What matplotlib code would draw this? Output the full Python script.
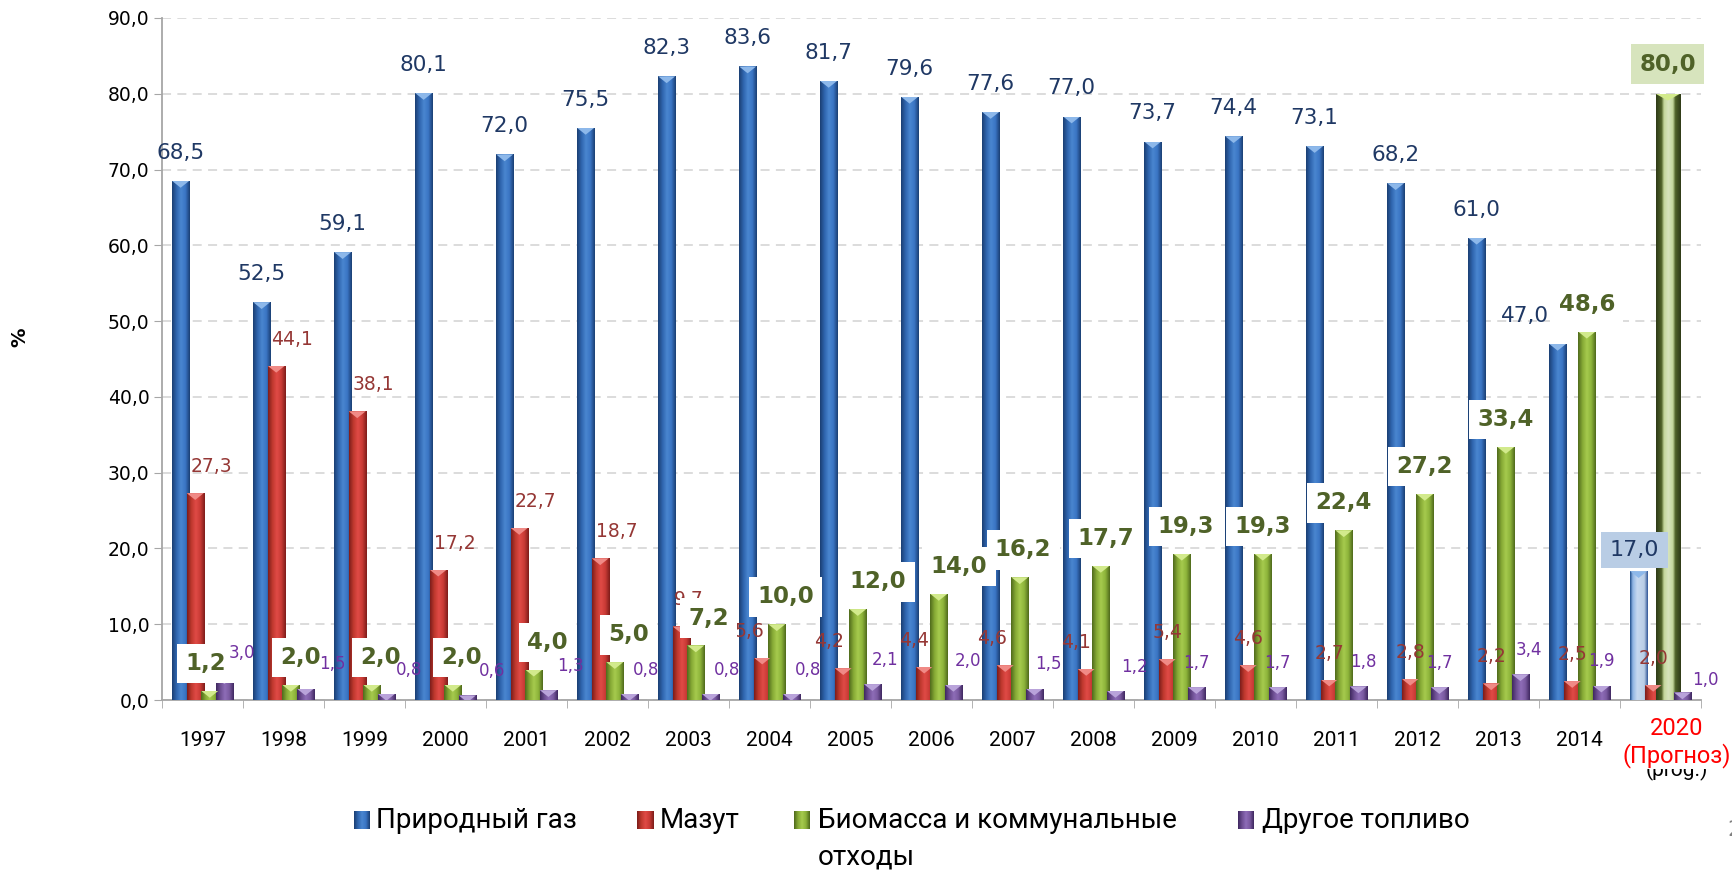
import numpy as np
import matplotlib
matplotlib.use('Agg')
import matplotlib.pyplot as plt
from matplotlib.colors import LinearSegmentedColormap
from matplotlib.patches import Polygon

# данные
years = ['1997', '1998', '1999', '2000', '2001', '2002', '2003', '2004', '2005',
         '2006', '2007', '2008', '2009', '2010', '2011', '2012', '2013', '2014',
         '2020\n(Прогноз)']
gas = [68.5, 52.5, 59.1, 80.1, 72.0, 75.5, 82.3, 83.6, 81.7, 79.6, 77.6, 77.0,
       73.7, 74.4, 73.1, 68.2, 61.0, 47.0, 17.0]
mazut = [27.3, 44.1, 38.1, 17.2, 22.7, 18.7, 9.7, 5.6, 4.2, 4.4, 4.6, 4.1,
         5.4, 4.6, 2.7, 2.8, 2.2, 2.5, 2.0]
biomass = [1.2, 2.0, 2.0, 2.0, 4.0, 5.0, 7.2, 10.0, 12.0, 14.0, 16.2, 17.7,
           19.3, 19.3, 22.4, 27.2, 33.4, 48.6, 80.0]
other = [3.0, 1.5, 0.8, 0.6, 1.3, 0.8, 0.8, 0.8, 2.1, 2.0, 1.5, 1.2,
         1.7, 1.7, 1.8, 1.7, 3.4, 1.9, 1.0]
series_names = ['Природный газ', 'Мазут', 'Биомасса и коммунальные\nотходы', 'Другое топливо']

# сдвиги подписей (в долях категории), как в исходной диаграмме
gas_dx = [0]*17 + [-0.4, -0.05]
maz_dx = [0.2]*6 + [0.09, -0.16, -0.18, -0.12, -0.16, -0.12] + [0]*7
bio_dx = [-0.05, 0.12, 0.11, 0.11, 0.17, 0.17, 0.16, 0.11, 0.25, 0.25, 0.04, 0.06,
          0.05, 0, 0, 0, 0, 0, 0]
oth_dx = [0.22, 0.33, 0.28, 0.3, 0.27, 0.21, 0.2, 0.21, 0.16, 0.18, 0.17, 0.23,
          0, 0, 0.06, 0, 0.1, 0, 0.28]

grads = [
    ['#1B3F73', '#2F65AE', '#4A86D0', '#3A75C4', '#1B3F73'],
    ['#7D1D1A', '#C0392F', '#E04B46', '#C83A35', '#7D1D1A'],
    ['#4F6A1C', '#86A935', '#A6CB4E', '#8DB33A', '#4F6A1C'],
    ['#3F2860', '#6E4F93', '#8E6DB8', '#7A5AA0', '#3F2860'],
]
tri_colors = ['#8DB8EA', '#F08A86', '#D2EA8C', '#B9A3DA']
forecast_grads = {
    0: [(0, '#1F4E8C'), (0.15, '#8EB4E3'), (0.4, '#C6D9F1'), (0.8, '#B9CDE5'), (1, '#2F5597')],
    2: [(0, '#2F3B17'), (0.22, '#4F6228'), (0.32, '#C4D79B'), (0.5, '#D7E4BD'),
        (0.68, '#C4D79B'), (0.78, '#4F6228'), (1, '#2F3B17')],
}

plt.rcParams['font.family'] = ['DejaVu Sans']

W, H = 1733, 872
fig = plt.figure(figsize=(W / 100, H / 100), dpi=100)
ax = fig.add_axes([162 / W, 1 - 700 / H, (1701 - 162) / W, (700 - 18) / H])

x = np.arange(len(years))
step = 0.18
width = 0.21
last = len(years) - 1


def fmt(v):
    return f'{v:.1f}'.replace('.', ',')


def shade(rect, colors, tri_color):
    x0, y0 = rect.get_x(), rect.get_y()
    w, h = rect.get_width(), rect.get_height()
    cmap = LinearSegmentedColormap.from_list('g', colors)
    im = ax.imshow(np.linspace(0, 1, 100).reshape(1, -1), cmap=cmap, aspect='auto',
                   extent=(x0, x0 + w, y0, y0 + h), zorder=3.1, interpolation='bilinear')
    im.set_clip_path(rect)
    tri = Polygon([(x0, y0 + h), (x0 + w, y0 + h), (x0 + w / 2, y0 + h - 0.9)],
                  closed=True, facecolor=tri_color, edgecolor='none', zorder=3.2)
    ax.add_patch(tri)
    tri.set_clip_path(rect)


for s, vals in enumerate([gas, mazut, biomass, other]):
    for i, v in enumerate(vals):
        xc = x[i] + (s - 1.5) * step
        w = width
        colors = grads[s]
        if i == last and s in forecast_grads:
            colors = forecast_grads[s]
            if s == 2:
                w = 0.3
        base = colors[1][1] if isinstance(colors[1], tuple) else colors[1]
        rect = ax.bar(xc, v, w, color=base, zorder=3)[0]
        shade(rect, colors, tri_colors[s])

        if s == 0:
            if i == last:
                ax.text(xc + gas_dx[i], v + 2.8, fmt(v), ha='center', va='center',
                        color='#1F3864', fontsize=16, zorder=7,
                        bbox=dict(facecolor='#B9CDE5', edgecolor='none', pad=6))
            else:
                ax.text(xc + gas_dx[i], v + 3.7, fmt(v), ha='center', va='center',
                        color='#1F3864', fontsize=15.5, zorder=6)
        elif s == 1:
            ax.text(xc + maz_dx[i], v + 3.5, fmt(v), ha='center', va='center',
                    color='#953735', fontsize=13.5, zorder=5)
        elif s == 2:
            bg = '#D7E4BD' if i == last else 'white'
            dy = 3.9 if i == last else 3.6
            ax.text(xc + bio_dx[i], v + dy, fmt(v), ha='center', va='center',
                    color='#4F6228', fontsize=16.5, fontweight='bold', zorder=7,
                    bbox=dict(facecolor=bg, edgecolor='none', pad=6))
        else:
            dy = 1.6 if i == last else 3.2
            ax.text(xc + oth_dx[i], v + dy, fmt(v), ha='center', va='center',
                    color='#7030A0', fontsize=12, zorder=8)

# оси
ax.set_xlim(-0.5, len(years) - 0.5)
ax.set_ylim(0, 90)
yt = np.arange(0, 91, 10)
ax.set_yticks(yt, [fmt(t) for t in yt])
ax.yaxis.grid(True, linestyle=(0, (5, 3.5)), color='#D9D9D9', lw=1.3)
ax.set_axisbelow(True)
for sp in ['top', 'right']:
    ax.spines[sp].set_visible(False)
for sp in ['left', 'bottom']:
    ax.spines[sp].set_color('#A6A6A6')
    ax.spines[sp].set_linewidth(1.3)
ax.tick_params(axis='y', length=6, color='#A6A6A6', pad=3, labelsize=13.5)
ax.set_xticks(x, years[:-1] + [''])
ax.set_xticks(np.arange(-0.5, len(years), 1), minor=True)
ax.tick_params(axis='x', which='major', length=0, pad=22)
ax.tick_params(axis='x', which='minor', length=6, color='#A6A6A6')
for lbl in ax.get_xticklabels():
    lbl.set_fontfamily('Roboto')
    lbl.set_fontsize(15)

# подпись прогноза (старая подпись частично закрыта новой)
ax.text(x[last] + 0.2, -9.3, '(prog.)', ha='center', va='center', fontsize=15,
        family='Roboto', color='black', clip_on=False, zorder=1)
ax.text(x[last] + 0.2, -5.6, years[last], ha='center', va='center', fontsize=17,
        family='Roboto', color='#FF0000', clip_on=False, zorder=10, linespacing=1.15,
        bbox=dict(facecolor='white', edgecolor='none', pad=1))

fig.text(20 / W, 1 - 337 / H, '%', rotation=90, fontweight='bold', fontsize=14,
         ha='center', va='center')
fig.text(1727 / W, 1 - 830 / H, '2', color='#808080', fontsize=16, ha='left', va='center')

# легенда
leg_marker_x = [354, 637, 794, 1238]
leg_text_x = [376, 660, 818, 1262]
for k, name in enumerate(series_names):
    mk = fig.add_axes([leg_marker_x[k] / W, 1 - 829 / H, 16 / W, 18 / H])
    mk.imshow(np.linspace(0, 1, 50).reshape(1, -1),
              cmap=LinearSegmentedColormap.from_list('m', grads[k]), aspect='auto')
    mk.axis('off')
    for j, line in enumerate(name.split('\n')):
        fig.text(leg_text_x[k] / W, 1 - (820 + 37 * j) / H, line, ha='left',
                 va='center', fontsize=20, family='Roboto')

fig.savefig('out.png', dpi=100, facecolor='white')
